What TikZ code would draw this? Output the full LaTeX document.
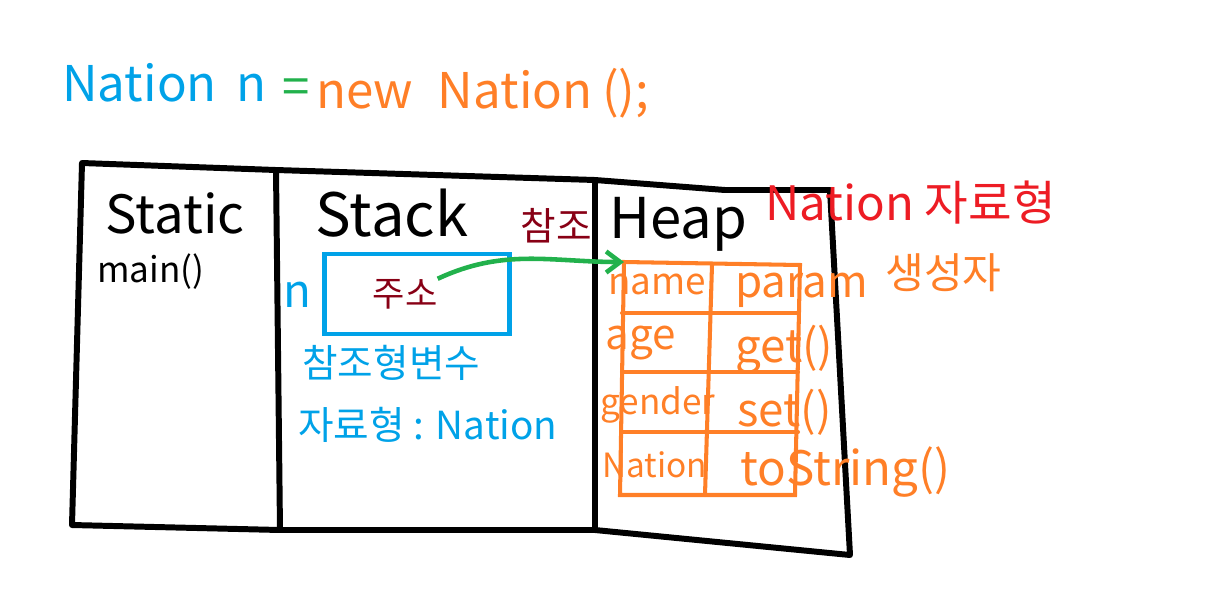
\documentclass[tikz,border=0pt]{standalone}
\usepackage{fontspec}
\setmainfont{Noto Sans CJK KR}
\usetikzlibrary{arrows.meta}

\begin{document}
\begin{tikzpicture}[x=0.02cm, y=-0.02cm]
    % Ink colours of the sketch
    \definecolor{inkBlack}{HTML}{000000}
    \definecolor{inkBlue}{HTML}{00A2E8}
    \definecolor{inkOrange}{HTML}{FF7F27}
    \definecolor{inkGreen}{HTML}{22B14C}
    \definecolor{inkMaroon}{HTML}{880015}
    \definecolor{inkRed}{HTML}{ED1C24}

    \tikzset{
        wall/.style={draw=inkBlack, line width=3.4pt, line join=round, line cap=round},
        cell/.style={draw=inkOrange, line width=2.3pt, line cap=round},
        label/.style={inner sep=0pt, font=\fontsize{#1}{#1}\selectfont},
        ref/.style={draw=inkGreen, line width=2.6pt, -{Straight Barb[length=8pt, width=12pt]}}
    }

    \useasboundingbox (0,0) rectangle (1208,600);

    % Code line
    \node[label=28, anchor=base west, text=inkBlue] (decl) at (62,101) {Nation\hspace{0.4em}n};
    \node[label=28, anchor=base west, text=inkGreen] (assign) at (282,104) {=};
    \node[label=28, anchor=base west, text=inkOrange] (create) at (316,108) {new\hspace{0.5em}Nation\hspace{0.2em}();};

    % Memory frame
    \draw[wall] (82,163) -- (276,170) -- (595,180) -- (725,190) -- (830,190)
        -- (850,555) -- (595,530) -- (280,530) -- (72,525) -- cycle;
    \draw[wall] (276,170) -- (280,530);
    \draw[wall] (595,180) -- (595,530);

    % Area titles
    \node[label=30, text=inkBlack] (static) at (175,213) {Static};
    \node[label=20, text=inkBlack, anchor=west] (mainfn) at (97,272) {main()};
    \node[label=34, text=inkBlack] (stack) at (392,213) {Stack};
    \node[label=32, text=inkBlack] (heap) at (678,224) {Heap};

    % Reference variable on the stack
    \node[draw=inkBlue, line width=2.3pt, minimum width=185*0.02cm, minimum height=80*0.02cm] (var) at (417,294) {};
    \node[label=26, text=inkBlue] (varname) at (297,295) {n};
    \node[label=20, text=inkMaroon] (addr) at (405,294) {주소};
    \node[label=22, text=inkBlue, anchor=west] (kind) at (302,363) {참조형변수};
    \node[label=22, text=inkBlue, anchor=west] (vtype) at (298,425) {자료형 : Nation};

    % Object table on the heap
    \coordinate (objTop) at (624,262);
    \draw[cell] (objTop) -- (800,265) -- (795,495) -- (620,495) -- cycle;
    \foreach \y in {313,372,432}
        \draw[cell] (622,\y) -- (798,\y);
    \draw[cell] (712,265) -- (705,495);

    \node[label=21, text=inkOrange, anchor=west] (fname) at (608,284) {name};
    \node[label=24, text=inkOrange, anchor=west] (fage) at (605,343) {age};
    \node[label=20, text=inkOrange, anchor=west] (fgender) at (600,405) {gender};
    \node[label=19, text=inkOrange, anchor=west] (fclass) at (602,465) {Nation};
    \node[label=25, text=inkOrange, anchor=west] (mparam) at (735,290) {param};
    \node[label=26, text=inkOrange, anchor=west] (mget) at (735,350) {get()};
    \node[label=26, text=inkOrange, anchor=west] (mset) at (737,412) {set()};
    \node[label=27, text=inkOrange, anchor=west] (mstr) at (740,472) {toString()};

    % Class notes
    \node[label=27, text=inkRed, anchor=west] (ctype) at (765,203) {Nation 자료형};
    \node[label=24, text=inkOrange, anchor=west] (ctor) at (885,273) {생성자};

    % Reference arrow
    \draw[ref] (addr.north east) to[out=25, in=180] (objTop);
    \node[label=22, text=inkMaroon] (reflabel) at (556,226) {참조};
\end{tikzpicture}
\end{document}
